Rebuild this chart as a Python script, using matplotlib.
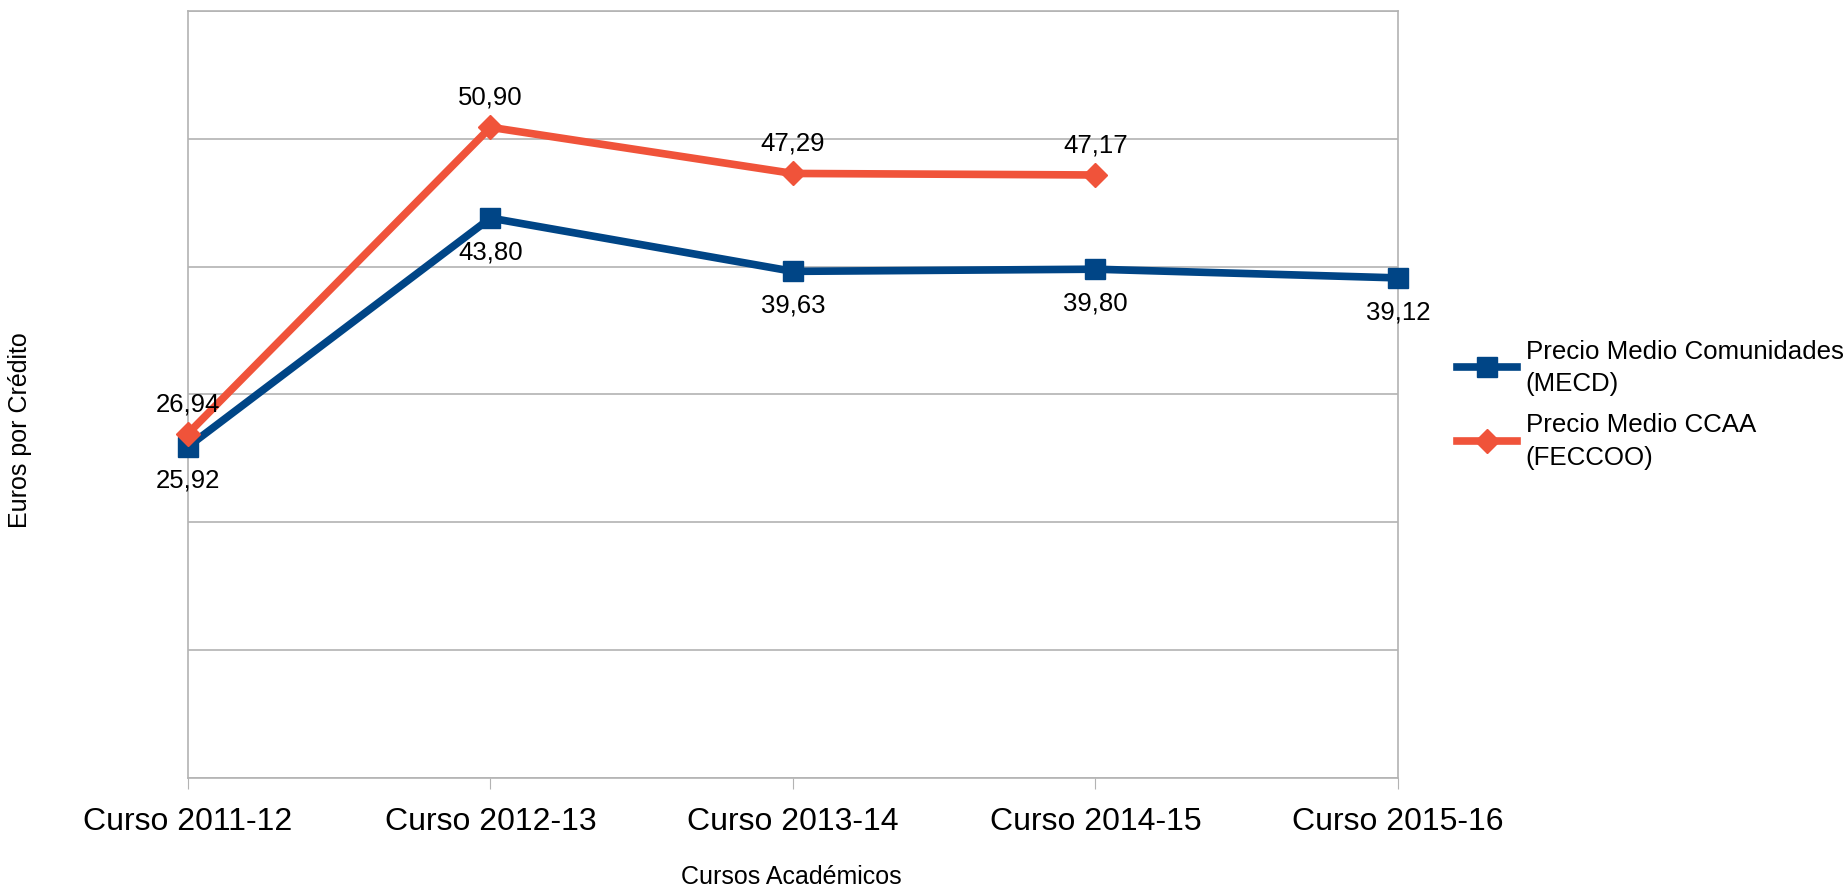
import numpy as np
import matplotlib.pyplot as plt

plt.rcParams['font.family'] = ['Liberation Sans', 'DejaVu Sans']

# Datos
cursos = ["Curso 2011-12", "Curso 2012-13", "Curso 2013-14", "Curso 2014-15", "Curso 2015-16"]
mecd = [25.92, 43.80, 39.63, 39.80, 39.12]
feccoo = [26.94, 50.90, 47.29, 47.17]

azul = "#004586"
naranja = "#f0533a"

fig = plt.figure(figsize=(18.47, 8.87), dpi=100)
ax = fig.add_axes([0.1018, 0.1218, 0.655, 0.8647])

x = np.arange(len(cursos))
ax.plot(x, mecd, color=azul, lw=5.5, marker='s', ms=14, clip_on=False, zorder=3,
        label="Precio Medio Comunidades\n(MECD)")
ax.plot(x[:len(feccoo)], feccoo, color=naranja, lw=5.5, marker='D', ms=12, clip_on=False,
        zorder=3, label="Precio Medio CCAA\n(FECCOO)")

# Etiquetas de valor
for i, v in enumerate(mecd):
    ax.annotate(f"{v:.2f}".replace(".", ","), (x[i], v), xytext=(0, -24),
                textcoords="offset points", ha="center", va="center", fontsize=18.5)
for i, v in enumerate(feccoo):
    ax.annotate(f"{v:.2f}".replace(".", ","), (x[i], v), xytext=(0, 22),
                textcoords="offset points", ha="center", va="center", fontsize=18.5)

ax.set_xlim(0, len(cursos) - 1)
ax.set_ylim(0, 60)
ax.set_yticks(np.arange(0, 61, 10))
ax.set_yticklabels([])
ax.tick_params(axis='y', length=0)
ax.set_xticks(x)
ax.set_xticklabels(cursos, fontsize=23)
ax.tick_params(axis='x', length=8, color="#b3b3b3", pad=12)
ax.grid(axis='y', color="#b3b3b3", lw=1.2)
for s in ax.spines.values():
    s.set_color("#b3b3b3")
    s.set_linewidth(1.2)
ax.set_axisbelow(True)

fig.text(0.4285, 0.011, "Cursos Académicos", ha="center", va="center", fontsize=18)
fig.text(0.011, 0.515, "Euros por Crédito", ha="center", va="center",
         rotation=90, fontsize=18)

leg = ax.legend(loc="upper left", bbox_to_anchor=(0.789, 0.617), bbox_transform=fig.transFigure,
                frameon=False, fontsize=18.6, handlelength=2.3, handletextpad=0.35,
                labelspacing=0.65, borderpad=0, borderaxespad=0)
for t in leg.get_texts():
    t.set_linespacing(1.45)

fig.savefig("out.png", dpi=100)
